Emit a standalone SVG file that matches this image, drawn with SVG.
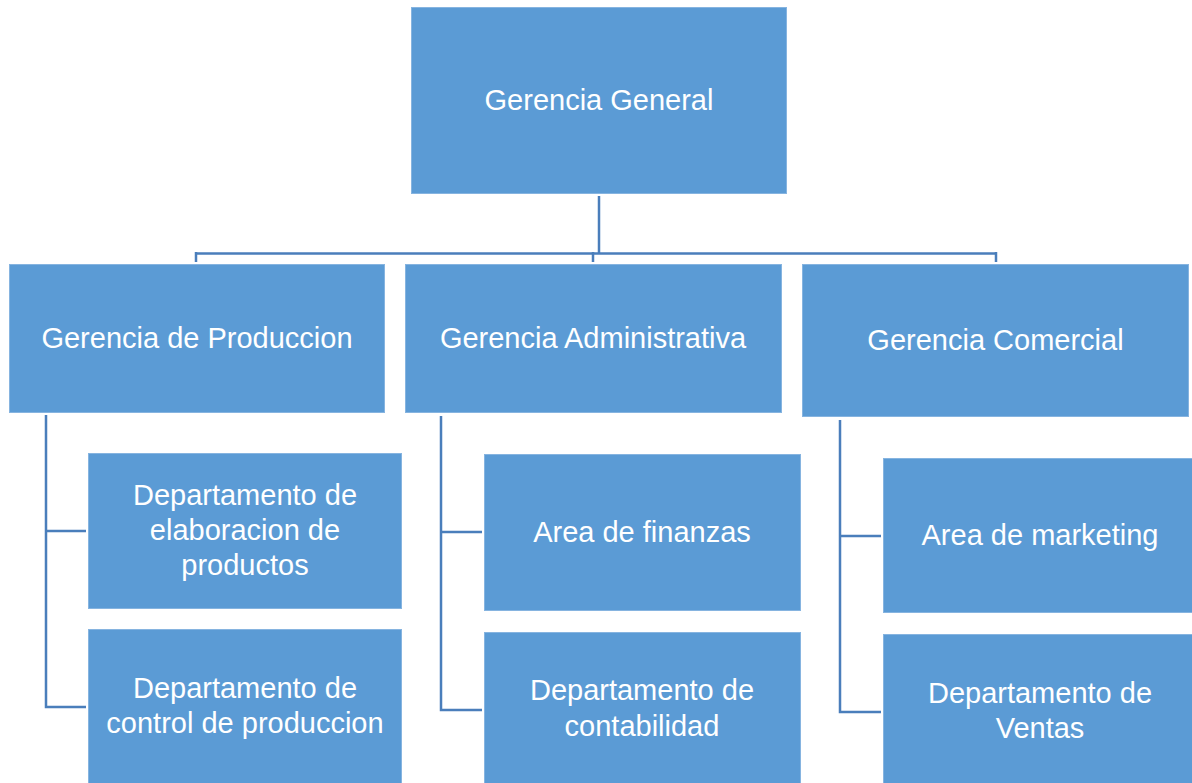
<svg xmlns="http://www.w3.org/2000/svg" width="1192" height="783" viewBox="0 0 1192 783">
<style>
.box{fill:#5B9BD5;stroke:#86B4E0;stroke-width:1}
.t{font-family:"Liberation Sans",Arial,sans-serif;font-size:29px;fill:#FFFFFF;text-anchor:middle}
.c{fill:none;stroke:#4A7EBB;stroke-width:2.5}
</style>
<rect width="1192" height="783" fill="#FFFFFF"/>
<g id="connectors">
<path class="c" d="M599 196 V253.5"/>
<path class="c" d="M196 253.5 H996"/>
<path class="c" d="M196 252 V262"/>
<path class="c" d="M593 252 V262"/>
<path class="c" d="M996 252 V262"/>
<path class="c" d="M46 415 V707 H86 M46 531 H86"/>
<path class="c" d="M441 416 V710 H482 M441 532 H482"/>
<path class="c" d="M840 420 V712 H881 M840 536 H881"/>
</g>
<g id="gerencia-general">
<rect class="box" x="411.5" y="7.5" width="375" height="186"/>
<text class="t" x="599" y="110">Gerencia General</text>
</g>
<g id="gerencia-produccion">
<rect class="box" x="9.5" y="264.5" width="375" height="148"/>
<text class="t" x="197" y="348">Gerencia de Produccion</text>
</g>
<g id="gerencia-administrativa">
<rect class="box" x="405.5" y="264.5" width="376" height="148"/>
<text class="t" x="593" y="348">Gerencia Administrativa</text>
</g>
<g id="gerencia-comercial">
<rect class="box" x="802.5" y="264.5" width="386" height="152"/>
<text class="t" x="995.5" y="350">Gerencia Comercial</text>
</g>
<g id="dep-elaboracion">
<rect class="box" x="88.5" y="453.5" width="313" height="155"/>
<text class="t" x="245" y="505">Departamento de</text>
<text class="t" x="245" y="540">elaboracion de</text>
<text class="t" x="245" y="575">productos</text>
</g>
<g id="dep-control">
<rect class="box" x="88.5" y="629.5" width="313" height="160"/>
<text class="t" x="245" y="698">Departamento de</text>
<text class="t" x="245" y="733">control de produccion</text>
</g>
<g id="area-finanzas">
<rect class="box" x="484.5" y="454.5" width="316" height="156"/>
<text class="t" x="642" y="542">Area de finanzas</text>
</g>
<g id="dep-contabilidad">
<rect class="box" x="484.5" y="632.5" width="316" height="160"/>
<text class="t" x="642" y="700">Departamento de</text>
<text class="t" x="642" y="736">contabilidad</text>
</g>
<g id="area-marketing">
<rect class="box" x="883.5" y="458.5" width="310" height="154"/>
<text class="t" x="1040" y="545">Area de marketing</text>
</g>
<g id="dep-ventas">
<rect class="box" x="883.5" y="634.5" width="310" height="160"/>
<text class="t" x="1040" y="703">Departamento de</text>
<text class="t" x="1040" y="738">Ventas</text>
</g>
</svg>
